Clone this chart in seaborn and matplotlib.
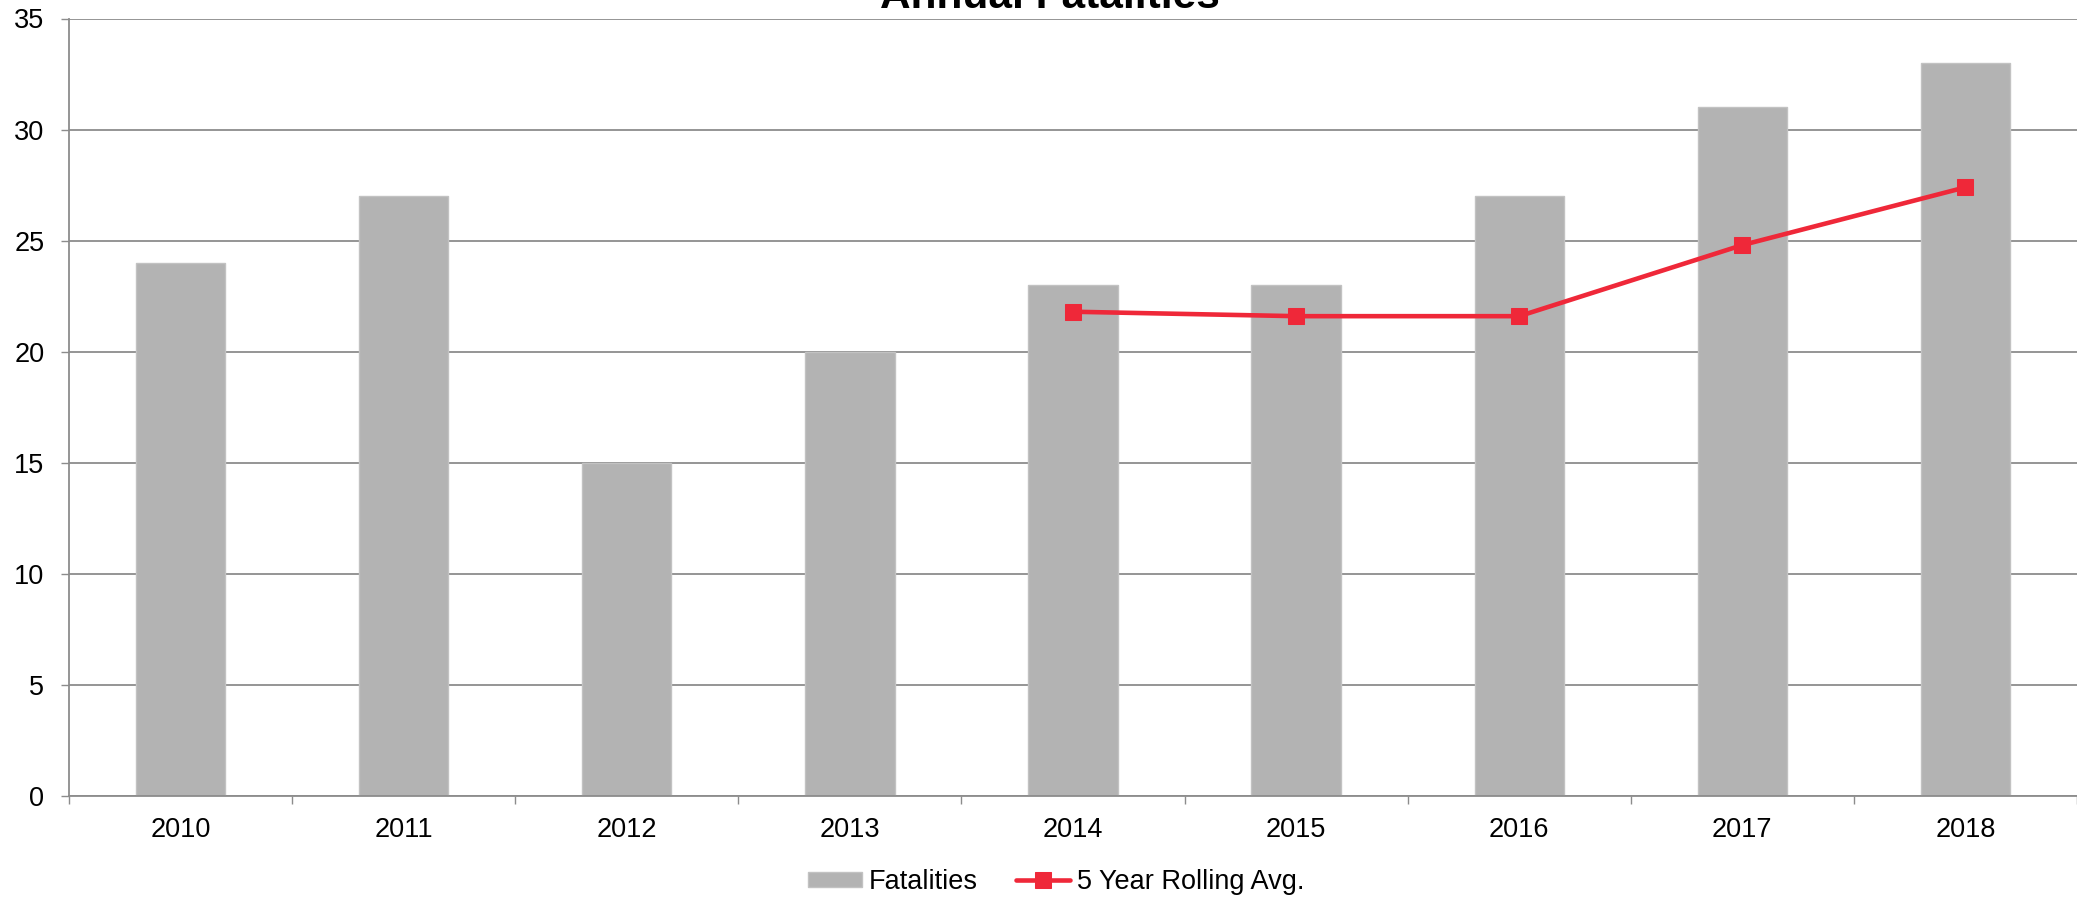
import matplotlib
matplotlib.use("Agg")
import matplotlib.pyplot as plt
from matplotlib.ticker import FixedLocator
import seaborn as sns

# ---- data ----
years = [2010, 2011, 2012, 2013, 2014, 2015, 2016, 2017, 2018]
fatalities = [24, 27, 15, 20, 23, 23, 27, 31, 33]
rolling_years = [2014, 2015, 2016, 2017, 2018]
rolling_avg = [21.8, 21.6, 21.6, 24.8, 27.4]
year_labels = [str(y) for y in years]
y_ticks = [0, 5, 10, 15, 20, 25, 30, 35]

sns.set_theme(style="white")
plt.rcParams["font.family"] = ["Liberation Sans", "DejaVu Sans"]
plt.rcParams["text.color"] = "black"

W, H = 2077, 900
fig = plt.figure(figsize=(W / 100, H / 100), dpi=100)
ax = fig.add_axes([69 / W, (H - 796) / H, 1 - 69 / W, (796 - 18.5) / H])

GRID = "#8C8C8C"
BAR = "#B3B3B3"
RED = "#EF2839"

sns.barplot(x=years, y=fatalities, native_scale=True, width=0.4,
            color=BAR, saturation=1, edgecolor="#C2C2C2", linewidth=1,
            label="Fatalities", ax=ax, zorder=2)
sns.lineplot(x=rolling_years, y=rolling_avg, color=RED, marker="s",
             markersize=11, markeredgecolor=RED, linewidth=3.3,
             label="5 Year Rolling Avg.", ax=ax, zorder=3)

handles, labels = ax.get_legend_handles_labels()
if ax.get_legend() is not None:
    ax.get_legend().remove()
order = [labels.index("Fatalities"), labels.index("5 Year Rolling Avg.")]
handles = [handles[i] for i in order]
labels = [labels[i] for i in order]

ax.set_xlim(2009.5, 2018.5)
ax.set_ylim(0, 35)
ax.set_yticks(y_ticks)
ax.set_xticks(years)
ax.set_xticklabels(year_labels)
ax.xaxis.set_minor_locator(FixedLocator([y - 0.5 for y in years] + [2018.5]))
ax.set_xlabel("")
ax.set_ylabel("")

ax.yaxis.grid(True, color=GRID, linewidth=1.3)
ax.xaxis.grid(False)
ax.set_axisbelow(True)

for s in ["top", "right"]:
    ax.spines[s].set_visible(False)
for s in ["left", "bottom"]:
    ax.spines[s].set_color(GRID)
    ax.spines[s].set_linewidth(1.3)

ax.tick_params(axis="y", which="major", left=True, length=5.8, width=1,
               color=GRID, pad=12, labelsize=19.5, labelcolor="black")
ax.tick_params(axis="x", which="major", bottom=False, length=0, pad=15,
               labelsize=19.5, labelcolor="black")
ax.tick_params(axis="x", which="minor", bottom=True, length=5.8, width=1,
               color=GRID)

fig.text(1050 / W, 1 - 8 / H, "Annual Fatalities", ha="center", va="baseline",
         fontsize=30.5, fontweight="bold", color="black")

leg = fig.legend(handles, labels, loc="center", bbox_to_anchor=(1056 / W, 1 - 882 / H),
                 ncol=2, frameon=False, fontsize=19.5, handlelength=2.0,
                 handletextpad=0.25, columnspacing=1.4, handleheight=0.52)
for t in leg.get_texts():
    t.set_color("black")

fig.savefig("out.png", dpi=100)
